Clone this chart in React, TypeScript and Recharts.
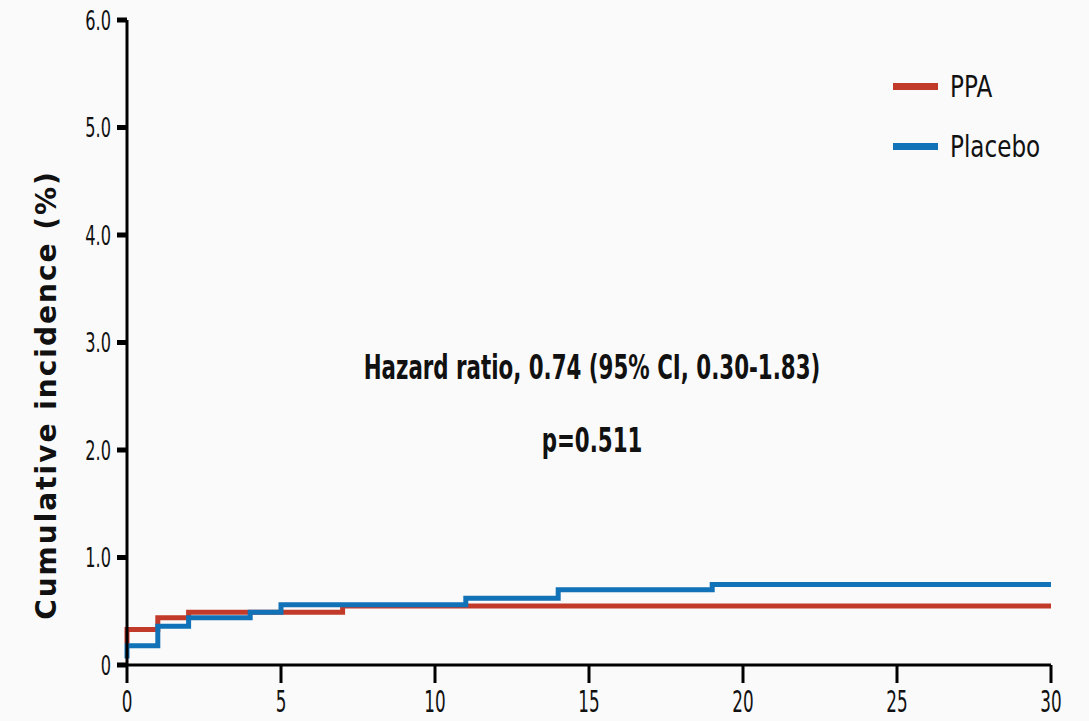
import React from 'react';
import { LineChart, Line, XAxis, YAxis } from 'recharts';

// Kaplan-Meier style cumulative incidence
const ppaTimes = [0, 0, 1, 2, 7, 30];
const ppaValues = [0.2, 0.33, 0.44, 0.49, 0.55, 0.55];

const placeboTimes = [0, 0, 1, 2, 4, 5, 11, 14, 19, 30];
const placeboValues = [0.06, 0.18, 0.36, 0.44, 0.49, 0.56, 0.62, 0.7, 0.75, 0.75];

const xTicks = [0, 5, 10, 15, 20, 25, 30];
const yTicks = [0, 1, 2, 3, 4, 5, 6];

const legendNames = ['PPA', 'Placebo'];

const ppaData = ppaTimes.map((t, i) => ({ t, v: ppaValues[i] }));
const placeboData = placeboTimes.map((t, i) => ({ t, v: placeboValues[i] }));

const RED = '#c23b2a';
const BLUE = '#1172b8';
const FONT = "'DejaVu Sans', sans-serif";

// the source figure uses a narrow face, so squeeze the glyphs horizontally
function NarrowTick(props: any) {
  const { x, y, payload, textAnchor, isY } = props;
  const label = isY ? (payload.value === 0 ? '0' : Number(payload.value).toFixed(1)) : String(payload.value);
  return (
    <g transform={`translate(${x},${y})`}>
      <text
        transform={isY ? 'scale(0.6,1)' : 'scale(0.56,1)'}
        textAnchor={textAnchor}
        dy={isY ? '0.36em' : '0.78em'}
        fill="#111"
        fontSize={isY ? 27 : 30}
        fontFamily={FONT}
      >
        {label}
      </text>
    </g>
  );
}

function YTitle() {
  return (
    <text
      x={46}
      y={395}
      transform="rotate(-90, 46, 395)"
      textAnchor="middle"
      dominantBaseline="central"
      fontFamily={FONT}
      fontWeight="bold"
      fontSize={28}
      letterSpacing={2}
      fill="#111"
    >
      Cumulative incidence (%)
    </text>
  );
}

export default function App() {
  const colors = [RED, BLUE];
  return (
    <div style={{ position: 'absolute', left: 0, top: 0, width: 1089, height: 721, background: '#fafafa', overflow: 'hidden' }}>
      <LineChart width={1089} height={721} margin={{ top: 20, right: 38, bottom: 0, left: 0 }}>
        <XAxis
          type="number"
          dataKey="t"
          domain={[0, 30]}
          ticks={xTicks}
          height={56}
          axisLine={{ stroke: '#000', strokeWidth: 3 }}
          tickLine={{ stroke: '#000', strokeWidth: 3 }}
          tickSize={18}
          tickMargin={6}
          tick={<NarrowTick />}
          allowDuplicatedCategory={false}
        />
        <YAxis
          type="number"
          domain={[0, 6]}
          ticks={yTicks}
          width={127}
          axisLine={{ stroke: '#000', strokeWidth: 3 }}
          tickLine={{ stroke: '#000', strokeWidth: 5 }}
          tickSize={10}
          tickMargin={6}
          tick={<NarrowTick isY />}
          label={{ content: () => <YTitle /> }}
        />
        <Line data={ppaData} dataKey="v" name="PPA" type="stepAfter" stroke={RED} strokeWidth={5} dot={false} isAnimationActive={false} />
        <Line data={placeboData} dataKey="v" name="Placebo" type="stepAfter" stroke={BLUE} strokeWidth={5} dot={false} isAnimationActive={false} />
      </LineChart>
      <div style={{ position: 'absolute', left: 893, top: 56 }}>
        {legendNames.map((name, i) => (
          <div key={name} style={{ display: 'flex', alignItems: 'center', height: 60 }}>
            <div style={{ width: 45, height: 7, background: colors[i], marginRight: 12 }} />
            <span style={{ fontFamily: FONT, fontSize: 30, color: '#111', display: 'inline-block', transform: 'scaleX(0.77)', transformOrigin: 'left center' }}>
              {name}
            </span>
          </div>
        ))}
      </div>
      <div
        style={{
          position: 'absolute',
          left: 92,
          width: 1000,
          top: 331,
          textAlign: 'center',
          whiteSpace: 'nowrap',
          fontFamily: FONT,
          fontWeight: 'bold',
          fontSize: 33,
          color: '#111',
          lineHeight: '73px',
          transform: 'scaleX(0.647)',
          transformOrigin: '500px 0',
        }}
      >
        Hazard ratio, 0.74 (95% CI, 0.30-1.83)
        <br />
        p=0.511
      </div>
    </div>
  );
}
